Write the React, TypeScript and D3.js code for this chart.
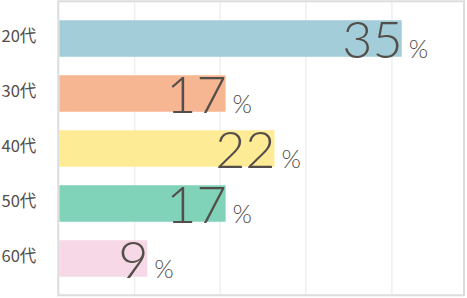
import React from "react";
import * as d3 from "d3";

const categories = ["20代", "30代", "40代", "50代", "60代"];
const values = [35, 17, 22, 17, 9];
const colors = ["#a2cdd9", "#f7b692", "#feeb95", "#80d2b9", "#f7d8e7"];
const gridValues = [7.7, 16.45, 25.2, 34.0];

const W = 467;
const H = 298;
const textColor = "#544e4a";

export default function App() {
  const x = d3.scaleLinear().domain([0, 41.37]).range([59.3, 464]);
  const y = d3
    .scaleBand<string>()
    .domain(categories)
    .range([1, 296])
    .paddingInner(0.336)
    .paddingOuter(0.35);

  return (
    <svg
      width={W}
      height={H}
      style={{ position: "absolute", left: 0, top: 0, background: "#fff" }}
    >
      {gridValues.map((g, i) => (
        <line
          key={"g" + i}
          x1={x(g)}
          x2={x(g)}
          y1={1}
          y2={295}
          stroke="#efefef"
          strokeWidth={1.5}
        />
      ))}
      {categories.map((c, i) => (
        <rect
          key={"b" + c}
          x={x(0)}
          y={y(c)!}
          width={x(values[i]) - x(0)}
          height={y.bandwidth()}
          fill={colors[i]}
        />
      ))}
      <rect
        x={58.3}
        y={1.3}
        width={405.7}
        height={294}
        fill="none"
        stroke="#dcdcdc"
        strokeWidth={2}
      />
      {categories.map((c, i) => (
        <text
          key={"l" + c}
          x={1.5}
          y={y(c)! + y.bandwidth() / 2 + 3.5}
          fontFamily="'Noto Sans CJK JP', 'Noto Sans', sans-serif"
          fontSize={16.5}
          fill={textColor}
        >
          {c}
        </text>
      ))}
      {categories.map((c, i) => (
        <g key={"v" + c}>
          <text
            x={x(values[i]) + 1}
            y={y(c)! + y.bandwidth() + 1}
            textAnchor="end"
            fontFamily="Lato, 'Noto Sans', sans-serif"
            fontWeight={300}
            fontSize={52}
            fill={textColor}
          >
            {values[i]}
          </text>
          <text
            x={x(values[i]) + 7}
            y={y(c)! + y.bandwidth() + 1}
            fontFamily="Lato, 'Noto Sans', sans-serif"
            fontWeight={300}
            fontSize={25}
            fill={textColor}
          >
            %
          </text>
        </g>
      ))}
    </svg>
  );
}
